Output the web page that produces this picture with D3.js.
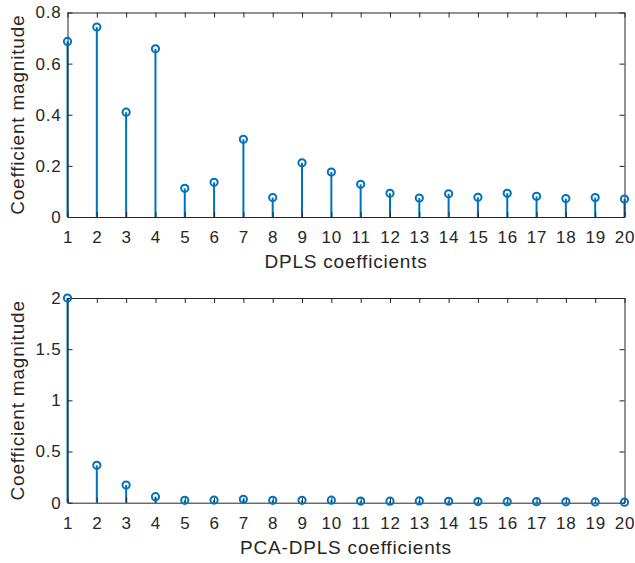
<!DOCTYPE html>
<html>
<head>
  <meta charset="utf-8">
  <script src="https://d3js.org/d3.v7.min.js"></script>
  <style>
    body { margin: 0; background: #fff; }
    text { font-family: "Liberation Sans", Arial, sans-serif; fill: #262626; }
  </style>
</head>
<body>
<script>
  // coefficient index 1..20
  var coefIndex = d3.range(1, 21);
  // DPLS coefficient magnitudes
  var dplsValues = [0.687, 0.743, 0.410, 0.658, 0.112, 0.136, 0.304, 0.076, 0.212, 0.176,
                    0.128, 0.093, 0.074, 0.091, 0.077, 0.093, 0.081, 0.072, 0.076, 0.070];
  // PCA-DPLS coefficient magnitudes
  var pcaValues = [2.0, 0.365, 0.173, 0.059, 0.023, 0.026, 0.033, 0.023, 0.023, 0.025,
                   0.016, 0.015, 0.017, 0.014, 0.011, 0.010, 0.010, 0.009, 0.008, 0.005];
  var dplsTicks = [0, 0.2, 0.4, 0.6, 0.8];
  var pcaTicks = [0, 0.5, 1, 1.5, 2];

  var W = 635, H = 563;
  var svg = d3.select("body").append("svg")
      .attr("width", W).attr("height", H);

  var blue = "#0072BD";
  var font = "'Liberation Sans', Arial, sans-serif";

  function stemPlot(values, yMax, yTicks, top, bottom, xLabel) {
    var x = d3.scaleLinear().domain([1, 20]).range([67.5, 624.5]);
    var y = d3.scaleLinear().domain([0, yMax]).range([bottom, top]);
    var g = svg.append("g");

    // stems
    g.selectAll("line.stem")
      .data(values)
      .enter().append("line")
        .attr("class", "stem")
        .attr("x1", function (d, i) { return x(coefIndex[i]); })
        .attr("x2", function (d, i) { return x(coefIndex[i]); })
        .attr("y1", y(0))
        .attr("y2", function (d) { return y(d); })
        .attr("stroke", blue)
        .attr("stroke-width", 2);

    // axes (ticks pointing inward)
    var xb = d3.axisBottom(x).tickValues(coefIndex).tickSizeInner(-5).tickSizeOuter(0).tickPadding(14);
    var xt = d3.axisTop(x).tickValues(coefIndex).tickSizeInner(-5).tickSizeOuter(0).tickFormat("");
    var yl = d3.axisLeft(y).tickValues(yTicks).tickSizeInner(-5).tickSizeOuter(0).tickPadding(6)
      .tickFormat(function (d) { return d3.format("")(d); });
    var yr = d3.axisRight(y).tickValues(yTicks).tickSizeInner(-5).tickSizeOuter(0).tickFormat("");

    var ax = [
      g.append("g").attr("transform", "translate(0," + bottom + ")").call(xb),
      g.append("g").attr("transform", "translate(0," + top + ")").call(xt),
      g.append("g").attr("transform", "translate(67.5,0)").call(yl),
      g.append("g").attr("transform", "translate(624.5,0)").call(yr)
    ];
    ax.forEach(function (a) {
      a.selectAll("path").attr("stroke", "#262626");
      a.selectAll("line").attr("stroke", "#262626");
      a.selectAll("text").style("font-size", "17px")
        .style("letter-spacing", "0.8px")
        .style("font-family", font).attr("fill", "#262626");
    });

    // markers
    g.selectAll("circle.mk")
      .data(values)
      .enter().append("circle")
        .attr("class", "mk")
        .attr("cx", function (d, i) { return x(coefIndex[i]); })
        .attr("cy", function (d) { return y(d); })
        .attr("r", 3.6)
        .attr("fill", "none")
        .attr("stroke", blue)
        .attr("stroke-width", 2);

    g.append("text")
      .attr("x", (67.5 + 624.5) / 2)
      .attr("y", bottom + 51)
      .attr("text-anchor", "middle")
      .style("font-size", "19px")
      .style("letter-spacing", "0.8px")
      .text(xLabel);

    g.append("text")
      .attr("transform", "translate(24," + ((top + bottom) / 2) + ") rotate(-90)")
      .attr("text-anchor", "middle")
      .style("font-size", "19px")
      .style("letter-spacing", "0.8px")
      .text("Coefficient magnitude");
  }

  stemPlot(dplsValues, 0.8, dplsTicks, 12.5, 217, "DPLS coefficients");
  stemPlot(pcaValues, 2, pcaTicks, 298, 502.7, "PCA-DPLS coefficients");
</script>
</body>
</html>
